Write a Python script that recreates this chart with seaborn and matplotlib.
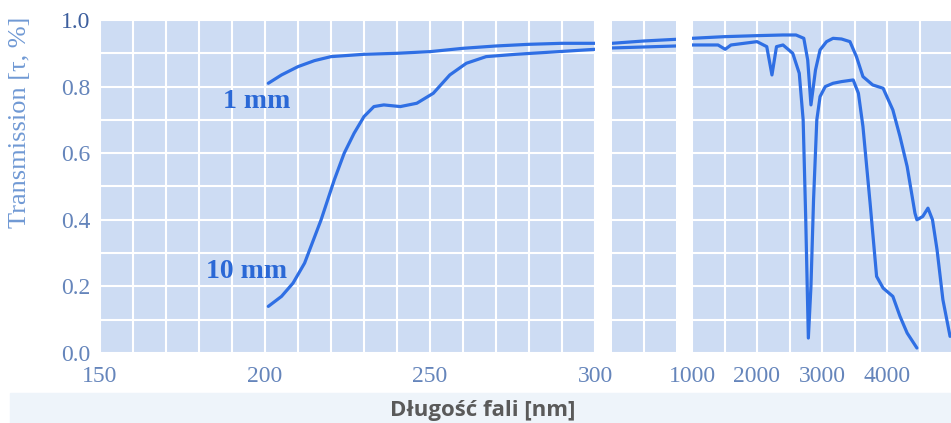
import numpy as np
import pandas as pd
import matplotlib.pyplot as plt
import seaborn as sns
from matplotlib.patches import Rectangle

# UV part (150-300 nm)
nm_1mm_uv = [201, 205, 210, 215, 220, 230, 240, 250, 260, 270, 280, 290, 300]
t_1mm_uv = [0.81, 0.835, 0.86, 0.878, 0.89, 0.897, 0.90, 0.905, 0.915, 0.922, 0.927, 0.93, 0.93]
nm_10mm_uv = [201, 205, 208.5, 212, 217, 221, 224, 227, 230, 233, 236, 241, 246,
              251, 256, 261, 267, 276, 289, 300]
t_10mm_uv = [0.14, 0.17, 0.21, 0.27, 0.40, 0.52, 0.60, 0.66, 0.71, 0.74, 0.745, 0.74, 0.75,
             0.78, 0.835, 0.87, 0.89, 0.897, 0.905, 0.912]

# break section (300-1000 nm)
nm_mid = [300, 650, 1000]
t_1mm_mid = [0.93, 0.937, 0.942]
t_10mm_mid = [0.916, 0.919, 0.922]

# IR part (1000-5000 nm)
nm_1mm_ir = [1000, 1500, 2000, 2400, 2600, 2720, 2780, 2830, 2900, 2970, 3070, 3170, 3300,
             3430, 3530, 3630, 3780, 3940, 4090, 4200, 4310, 4430, 4460, 4550, 4630, 4700,
             4770, 4860, 4970]
t_1mm_ir = [0.945, 0.95, 0.953, 0.955, 0.955, 0.945, 0.88, 0.745, 0.85, 0.91, 0.935, 0.945, 0.943,
            0.935, 0.89, 0.83, 0.805, 0.795, 0.73, 0.65, 0.56, 0.42, 0.40, 0.41, 0.435, 0.40,
            0.31, 0.16, 0.05]
nm_10mm_ir = [1000, 1400, 1510, 1600, 2000, 2150, 2230, 2300, 2400, 2550, 2650, 2710, 2750,
              2790, 2830, 2870, 2920, 2970, 3050, 3170, 3300, 3480, 3560, 3630, 3740, 3840,
              3940, 4090, 4200, 4310, 4460]
t_10mm_ir = [0.925, 0.925, 0.912, 0.925, 0.935, 0.92, 0.835, 0.92, 0.925, 0.90, 0.84, 0.70, 0.40,
             0.045, 0.20, 0.46, 0.70, 0.77, 0.80, 0.81, 0.815, 0.82, 0.78, 0.68, 0.45, 0.23,
             0.195, 0.17, 0.11, 0.06, 0.015]

y_ticks = [0.0, 0.2, 0.4, 0.6, 0.8, 1.0]
x_ticks_uv = [150, 200, 250, 300]
x_ticks_ir = [1000, 2000, 3000, 4000]

line_col = '#2f6fe4'
cell_col = '#cddcf3'
tick_col = '#6585bb'

sns.set_style('whitegrid', {'axes.facecolor': cell_col, 'grid.color': 'white',
                            'axes.edgecolor': 'none'})
plt.rcParams['font.family'] = ['Liberation Serif', 'DejaVu Serif']

fig = plt.figure(figsize=(9.51, 4.23), dpi=100)
b, h = 1 - 353 / 423, 333 / 423
ax1 = fig.add_axes([100 / 951, b, 495 / 951, h])
ax2 = fig.add_axes([612 / 951, b, 64 / 951, h])
ax3 = fig.add_axes([692 / 951, b, 260 / 951, h])

def draw(ax, x1, y1, x2, y2):
    d1 = pd.DataFrame({'nm': x1, 't': y1})
    d2 = pd.DataFrame({'nm': x2, 't': y2})
    sns.lineplot(data=d1, x='nm', y='t', ax=ax, color=line_col, lw=2.3, estimator=None, sort=False)
    sns.lineplot(data=d2, x='nm', y='t', ax=ax, color=line_col, lw=2.3, estimator=None, sort=False)
    ax.set_ylim(0, 1.0)
    ax.set_yticks(np.arange(0, 1.01, 0.1), minor=True)
    ax.set_yticks(y_ticks)
    ax.grid(True, which='both', color='white', lw=1.5)
    ax.set_axisbelow(True)
    ax.set_xlabel('')
    ax.set_ylabel('')
    ax.tick_params(which='both', length=0, colors=tick_col, labelsize=17)
    ax.tick_params(axis='x', pad=9)
    ax.tick_params(axis='y', pad=7)
    for s in ax.spines.values():
        s.set_visible(False)

draw(ax1, nm_1mm_uv, t_1mm_uv, nm_10mm_uv, t_10mm_uv)
ax1.set_xlim(150, 300)
ax1.set_xticks(x_ticks_uv)
ax1.set_xticks(np.arange(150, 301, 10), minor=True)
ax1.set_yticklabels(['0.0', '0.2', '0.4', '0.6', '0.8', '1.0'])
ax1.get_yticklabels()[-1].set_color('#3d5f9e')
ax1.set_ylabel('Transmission [τ, %]', color='#7099d4', fontsize=19)
ax1.yaxis.set_label_coords(-0.14, 0.694)
ax1.text(197.5, 0.755, '1 mm', color='#2a68d6', fontsize=20, fontweight='bold', ha='center', va='center')
ax1.text(194.5, 0.245, '10 mm', color='#2a68d6', fontsize=20, fontweight='bold', ha='center', va='center')

draw(ax2, nm_mid, t_1mm_mid, nm_mid, t_10mm_mid)
ax2.set_xlim(300, 1000)
ax2.set_xticks([650])
ax2.set_xticklabels([])
ax2.set_yticklabels([])

draw(ax3, nm_1mm_ir, t_1mm_ir, nm_10mm_ir, t_10mm_ir)
ax3.set_xlim(1000, 5000)
ax3.set_xticks(x_ticks_ir)
ax3.set_xticks(np.arange(1000, 5001, 500), minor=True)
ax3.set_yticklabels([])

fig.patches.append(Rectangle((10 / 951, 0), 941 / 951, 30 / 423, transform=fig.transFigure,
                             color='#eef4fa', zorder=0))
fig.text(483 / 951, 1 - 410 / 423, 'Długość fali [nm]', ha='center', va='center',
         fontsize=16, fontweight='bold', color='#5a5a5a', family=['Open Sans', 'DejaVu Sans'])

fig.savefig('out.png', dpi=100)
